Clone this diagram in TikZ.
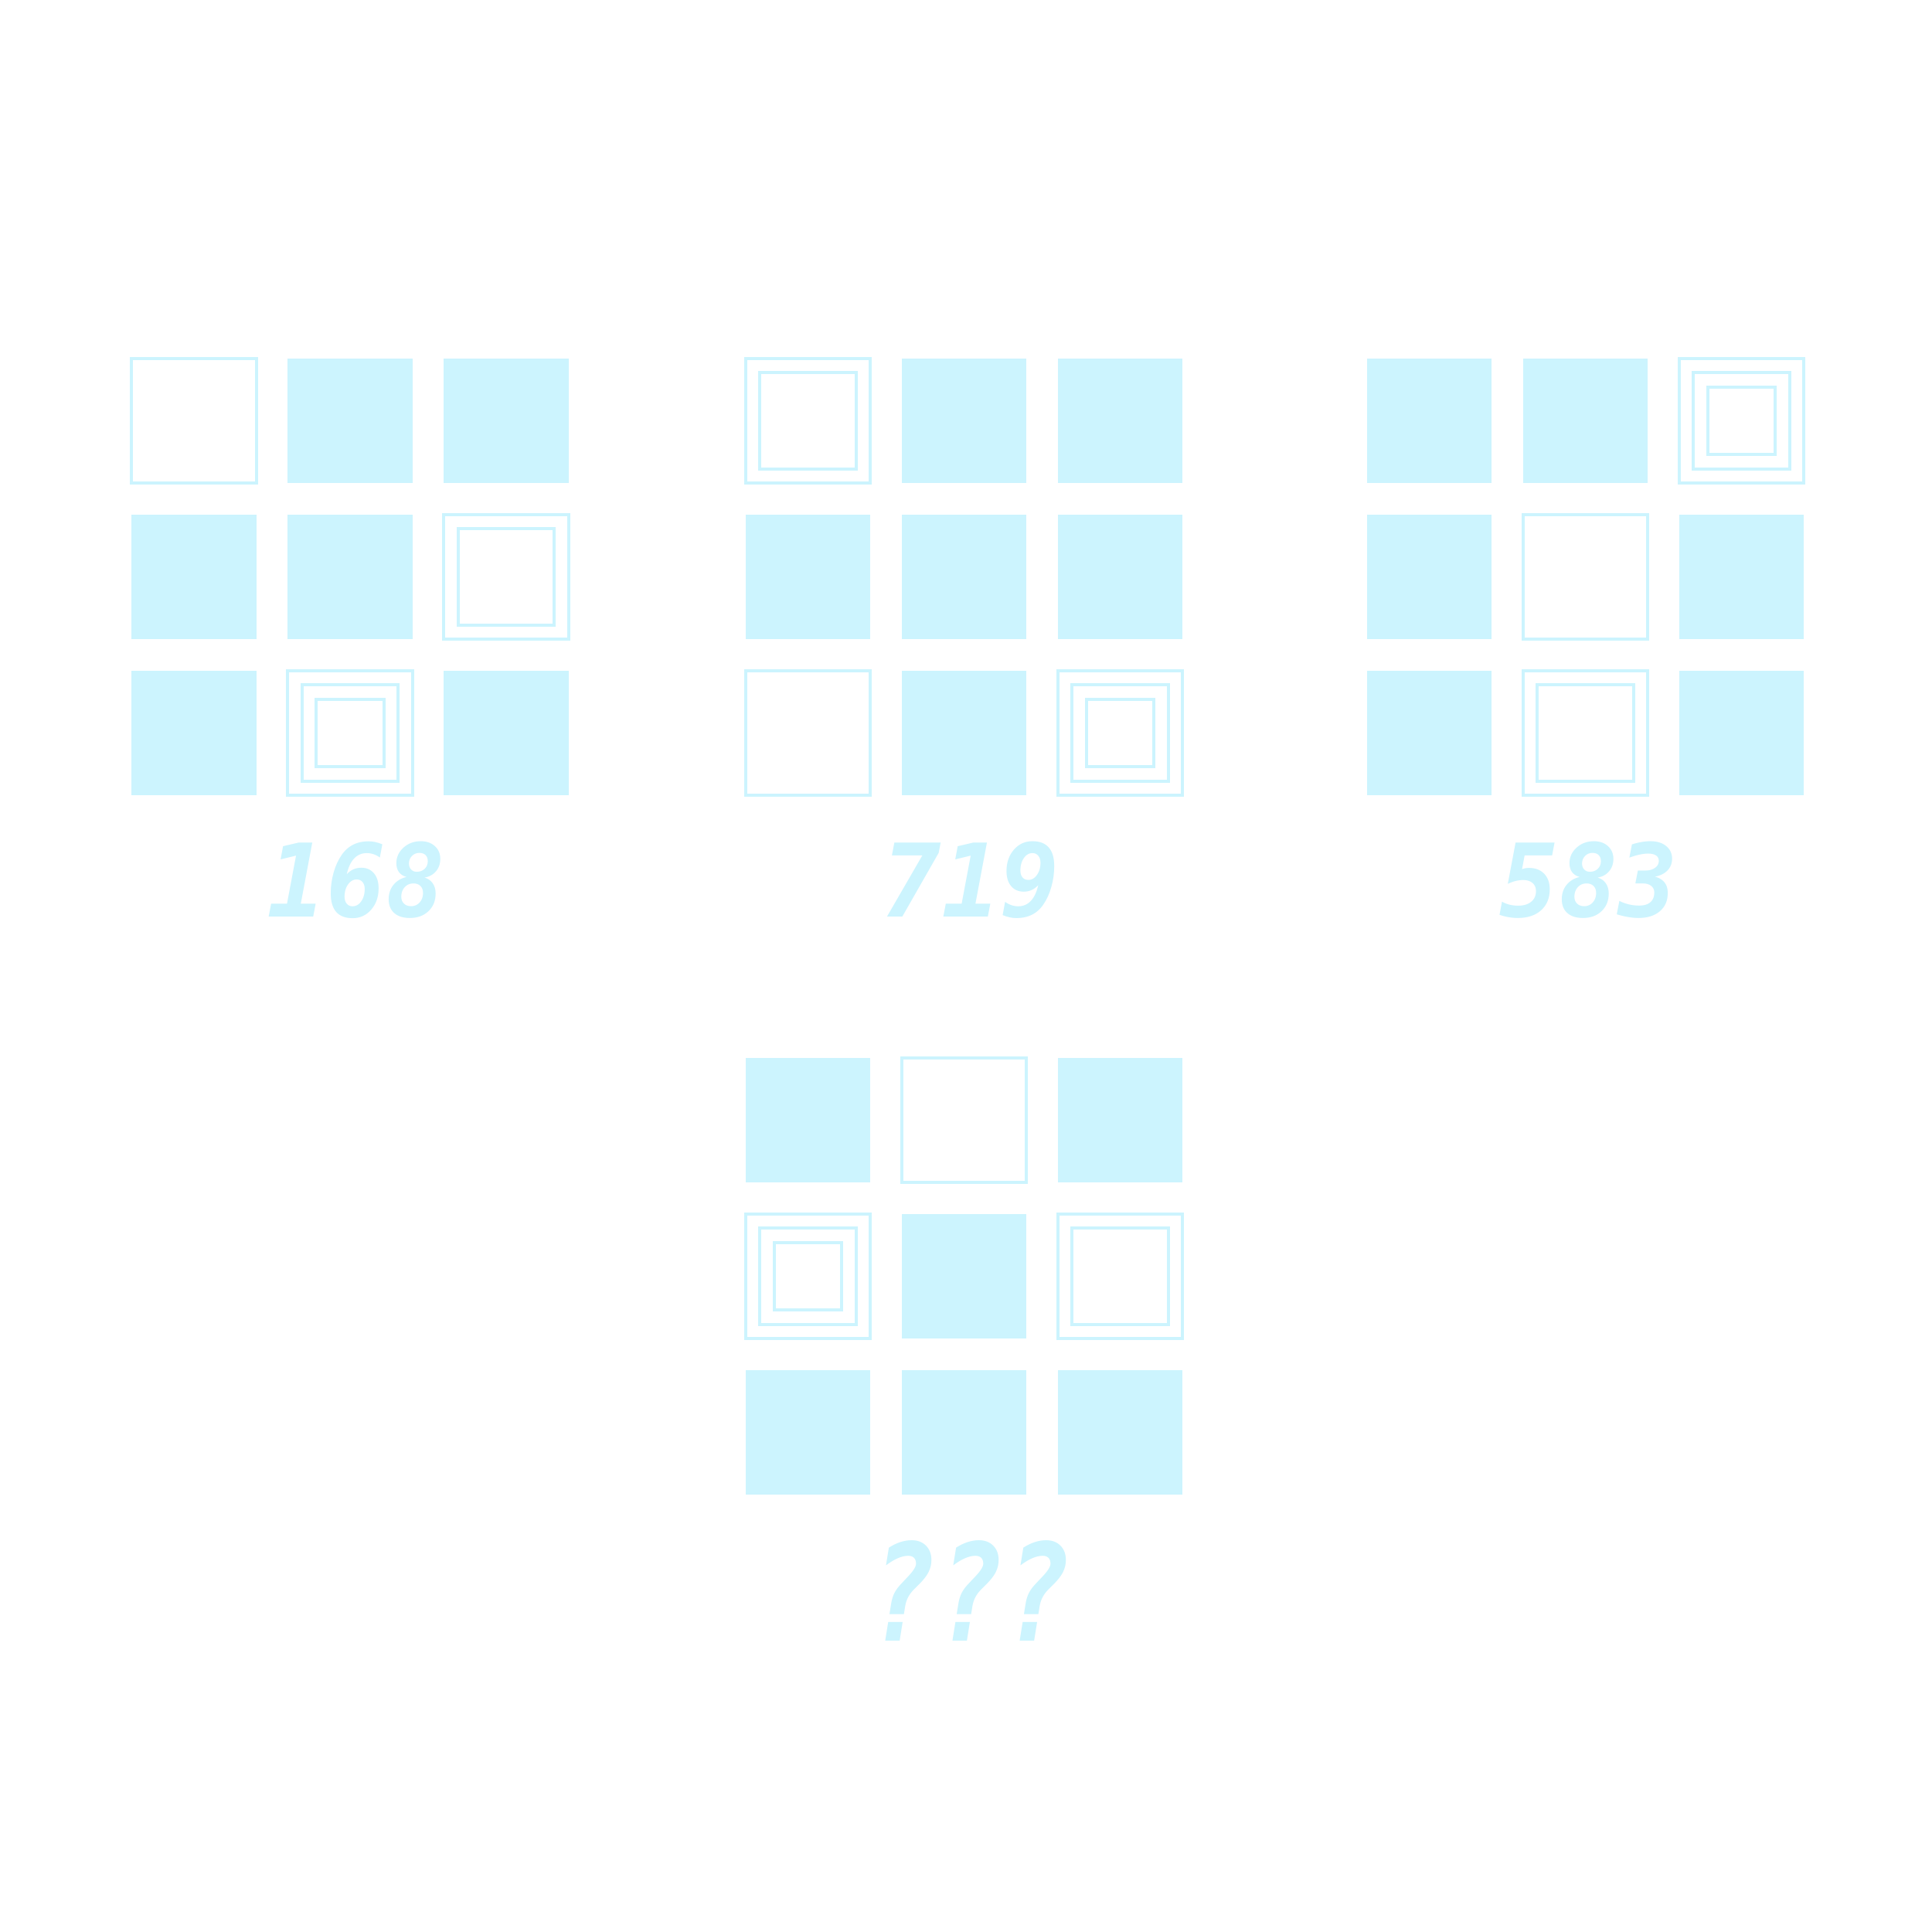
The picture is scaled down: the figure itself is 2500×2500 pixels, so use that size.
\documentclass[tikz,border=0pt]{standalone}
\usepackage{fontspec}
\usepackage{xcolor}
\usepackage{graphicx}
\newfontfamily\pixelfont{DejaVu Sans Mono}
\definecolor{tile}{HTML}{CCF4FE}
\usetikzlibrary{positioning}
\tikzset{
    cell/.style={
            minimum size=16.15mm,
            inner sep=0,
            outer sep=0,
        }
}
\tikzset{
    full/.style={
            cell,
            fill=tile,
        }
}
\tikzset{
    ring/.style={
            cell,
            draw=tile,
            line width=0.4mm,
        }
}
\tikzset{
    codelabel/.style={
            text=tile,
            inner sep=0,
            font=\pixelfont\bfseries\itshape,
        }
}
% #1 name, #2/#3 centre, #4 nine codes (0 filled, n = number of frames)
\newcommand{\tilegrid}[4]{
    \foreach \k [count=\i from 0] in {#4} {
            \pgfmathtruncatemacro{\col}{mod(\i,3)}
            \pgfmathtruncatemacro{\row}{div(\i,3)}
            \ifnum\k=0
                \node[full] (#1-\i) at ({#2+(\col-1)*202},{#3+(\row-1)*202}) {};
            \else
                \node[ring] (#1-\i) at ({#2+(\col-1)*202},{#3+(\row-1)*202}) {};
                \ifnum\k>1 \node[ring, minimum size=12.45mm] (#1-\i-b) at (#1-\i) {}; \fi
                \ifnum\k>2 \node[ring, minimum size=8.75mm] (#1-\i-c) at (#1-\i) {}; \fi
            \fi
        }
}
\newcommand{\codetext}[1]{\resizebox{23mm}{9.75mm}{#1}}

\begin{document}
\begin{tikzpicture}[x=0.1mm, y=-0.1mm]
    \useasboundingbox (0,0) rectangle (2500,2500);

    % grids
    \tilegrid{L}{452.9}{746.4}{1,0,0, 0,0,2, 0,3,0}
    \tilegrid{M}{1247.7}{746.4}{2,0,0, 0,0,0, 1,0,3}
    \tilegrid{R}{2051.3}{746.4}{0,0,3, 0,1,0, 0,2,0}
    \tilegrid{Q}{1247.7}{1651.4}{0,1,0, 3,0,2, 0,0,0}

    % codes
    \node[codelabel] (L-code) at (460.8,1138.5) {\codetext{168}};
    \node[codelabel] (M-code) at (1256.6,1138.5) {\codetext{719}};
    \node[codelabel] (R-code) at (2056,1138.5) {\codetext{583}};
    \node[codelabel] (Q-code) at (1256,2058) {\resizebox{26mm}{13mm}{???}};
\end{tikzpicture}
\end{document}
